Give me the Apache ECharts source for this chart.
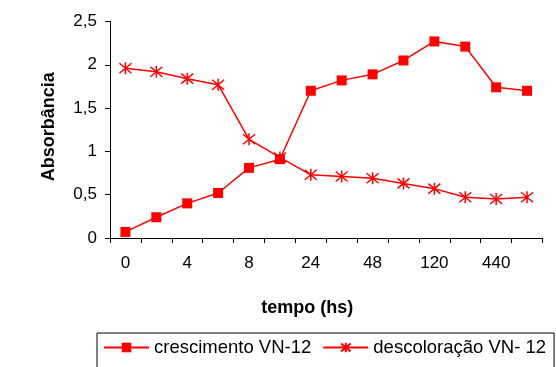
<!DOCTYPE html>
<html>
<head>
<meta charset="utf-8">
<script src="https://cdn.jsdelivr.net/npm/echarts@6/dist/echarts.min.js"></script>
<style>
html,body{margin:0;padding:0;background:#fff;}
#chart{width:556px;height:367px;}
</style>
</head>
<body>
<div id="chart"></div>
<script>
// tick labels of the time axis (shown every other point)
const timeLabels = ['0','','4','','8','','24','','48','','120','','440',''];
const yTicks = ['0','0,5','1','1,5','2','2,5'];
const crescimento = [0.07,0.24,0.40,0.52,0.81,0.91,1.70,1.82,1.89,2.05,2.27,2.21,1.74,1.70];
const descoloracao = [1.96,1.92,1.84,1.77,1.14,0.93,0.73,0.71,0.69,0.63,0.57,0.47,0.45,0.47];
const seriesNames = ['crescimento VN-12','descoloração VN- 12'];

const FONT = '"Liberation Sans", Arial, sans-serif';
const chart = echarts.init(document.getElementById('chart'), null, {renderer:'canvas'});
const starPath = 'path://M0,0L10,10M10,0L0,10M5,-1L5,11';

chart.setOption({
  animation:false,
  backgroundColor:'#fff',
  textStyle:{fontFamily:FONT},
  grid:{left:110, right:13.5, top:21.5, bottom:129, containLabel:false},
  legend:{
    left:97, top:333,
    padding:[5,8,14,6],
    borderColor:'#000', borderWidth:1,
    itemWidth:45, itemHeight:12, itemGap:11,
    textStyle:{fontFamily:FONT, fontSize:18.5, color:'#000'},
    data:seriesNames
  },
  xAxis:{
    type:'category',
    data:timeLabels.map((l,i)=>String(i)),
    boundaryGap:true,
    axisLine:{lineStyle:{color:'#000', width:1}},
    axisTick:{show:true, length:5, alignWithLabel:false, interval:0, lineStyle:{color:'#000'}},
    axisLabel:{interval:0, margin:17, fontSize:17, color:'#000', fontFamily:FONT,
      formatter:(v,i)=>timeLabels[i]},
    splitLine:{show:false},
    name:'tempo (hs)', nameLocation:'middle', nameGap:61,
    nameTextStyle:{fontSize:18, fontWeight:'bold', color:'#000', fontFamily:FONT, padding:[0,38,0,0]}
  },
  yAxis:{
    type:'value', min:0, max:2.5, interval:0.5,
    axisLine:{show:true, lineStyle:{color:'#000', width:1}},
    axisTick:{show:true, length:5, lineStyle:{color:'#000'}},
    axisLabel:{margin:13, fontSize:17, color:'#000', fontFamily:FONT,
      formatter:(v)=>yTicks[Math.round(v/0.5)]},
    splitLine:{show:false},
    name:'Absorbância', nameLocation:'middle', nameRotate:90, nameGap:52,
    nameTextStyle:{fontSize:18, fontWeight:'bold', color:'#000', fontFamily:FONT, padding:[0,0,0,6]}
  },
  series:[
    {
      name:seriesNames[0], type:'line', data:crescimento,
      symbol:'rect', symbolSize:10,
      lineStyle:{color:'#ff0000', width:1.5},
      itemStyle:{color:'#ff0000'}
    },
    {
      name:seriesNames[1], type:'line', data:descoloracao,
      symbol:starPath, symbolSize:12,
      lineStyle:{color:'#ff0000', width:1.5},
      itemStyle:{color:'#ff0000', borderColor:'#ff0000', borderWidth:1.5}
    }
  ]
});
</script>
</body>
</html>
